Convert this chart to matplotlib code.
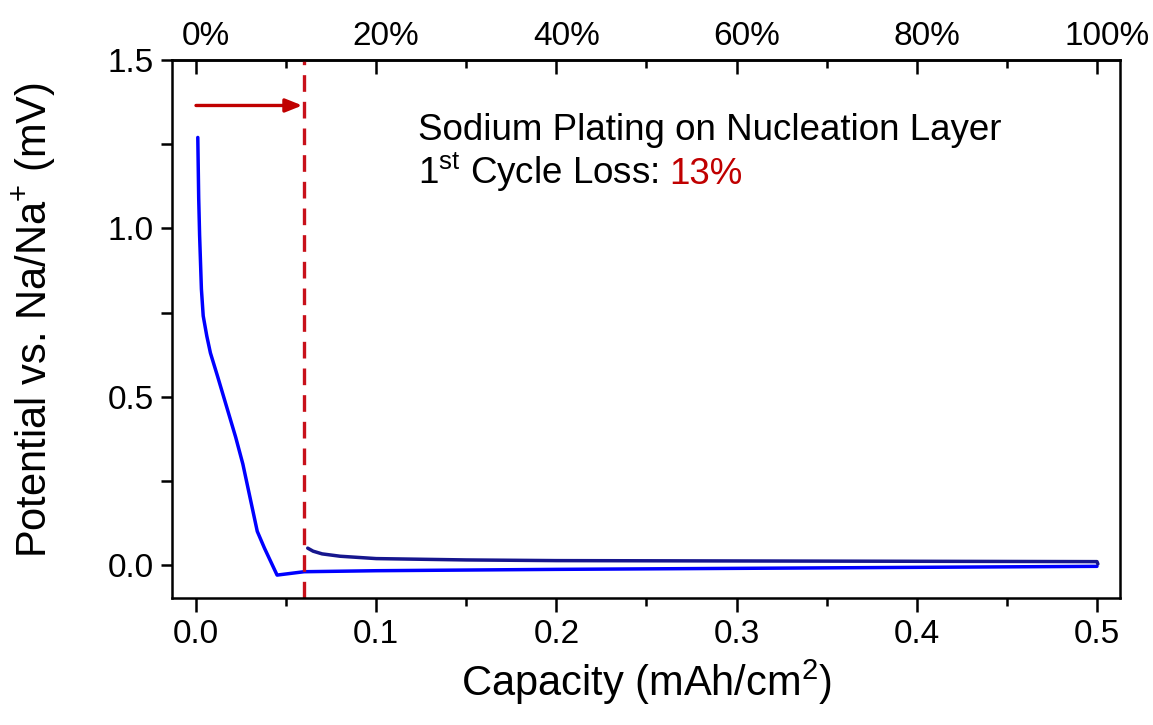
import matplotlib
matplotlib.use("Agg")
import matplotlib.pyplot as plt
import matplotlib.transforms as mtransforms
from matplotlib.ticker import MultipleLocator, FormatStrFormatter

plt.rcParams['font.family'] = ['Liberation Sans', 'DejaVu Sans']
plt.rcParams['mathtext.fontset'] = 'custom'
plt.rcParams['mathtext.rm'] = 'Liberation Sans'
plt.rcParams['mathtext.it'] = 'Liberation Sans:italic'

# discharge (plating) branch
cap_down = [0.001, 0.0015, 0.002, 0.003, 0.004, 0.006, 0.008, 0.012, 0.017, 0.022,
            0.026, 0.030, 0.034, 0.038, 0.045, 0.060, 0.100, 0.200, 0.300, 0.400, 0.500]
pot_down = [1.27, 1.09, 0.98, 0.82, 0.74, 0.68, 0.63, 0.56, 0.47, 0.38,
            0.30, 0.20, 0.10, 0.05, -0.03, -0.02, -0.017, -0.013, -0.010, -0.007, -0.004]

# plating on nucleation layer branch
cap_up = [0.062, 0.065, 0.070, 0.080, 0.100, 0.150, 0.200, 0.300, 0.400, 0.500, 0.5005]
pot_up = [0.050, 0.041, 0.033, 0.026, 0.019, 0.015, 0.013, 0.012, 0.011, 0.010, 0.003]

loss_cap = 0.06
top_ticks = [0.0, 0.1, 0.2, 0.3, 0.4, 0.5]
top_labels = ['0%', '20%', '40%', '60%', '80%', '100%']

fig = plt.figure(figsize=(11.53, 7.25), dpi=100)
ax = fig.add_axes([0.1492, 0.1752, 0.8222, 0.742])

ax.plot(cap_down, pot_down, color='#0000ff', lw=2.5, solid_capstyle='round')
ax.plot(cap_up, pot_up, color='#16168e', lw=2.5, solid_capstyle='round')

ax.axvline(loss_cap, color='#c8101a', lw=2.4, dashes=(5, 3))
ax.annotate('', xy=(loss_cap - 0.001, 1.365), xytext=(0.0, 1.365),
            arrowprops=dict(arrowstyle='-|>,head_length=1.0,head_width=0.4',
                            color='#c00000', lw=2.4, shrinkA=0, shrinkB=0))

ax.set_xlim(-0.0133, 0.5128)
ax.set_ylim(-0.098, 1.5)

ax.xaxis.set_major_locator(MultipleLocator(0.1))
ax.xaxis.set_minor_locator(MultipleLocator(0.05))
ax.yaxis.set_major_locator(MultipleLocator(0.5))
ax.yaxis.set_minor_locator(MultipleLocator(0.25))
ax.xaxis.set_major_formatter(FormatStrFormatter('%.1f'))
ax.yaxis.set_major_formatter(FormatStrFormatter('%.1f'))

ax.tick_params(axis='both', which='major', labelsize=24, width=1.8, pad=5)
ax.tick_params(axis='x', which='major', length=10, direction='out')
ax.tick_params(axis='x', which='minor', length=5.5, width=1.8, direction='out')
ax.tick_params(axis='y', which='both', length=8, width=1.8, direction='out')
for s in ax.spines.values():
    s.set_linewidth(1.8)

ax.set_xlabel('Capacity (mAh/cm$^{2}$)', fontsize=30)
ax.set_ylabel('Potential vs. Na/Na$^{+}$ (mV)', fontsize=30)
ax.xaxis.set_label_coords(0.5, -0.11)
ax.yaxis.set_label_coords(-0.12, 0.517)

top = ax.secondary_xaxis('top')
top.set_xticks(top_ticks)
top.set_xticklabels(top_labels)
top.xaxis.set_minor_locator(MultipleLocator(0.05))
top.tick_params(axis='x', which='major', length=10, width=1.8, direction='in',
                labelsize=24, pad=6)
top.tick_params(axis='x', which='minor', length=5.5, width=1.8, direction='in')
top.spines['top'].set_linewidth(1.8)
shift = mtransforms.ScaledTranslation(10 / 100, 0, fig.dpi_scale_trans)
for lab in top.get_xticklabels():
    lab.set_transform(lab.get_transform() + shift)

ax.text(0.1232, 1.262, 'Sodium Plating on Nucleation Layer', fontsize=26.5,
        va='baseline', ha='left')
t2 = ax.text(0.1232, 1.132, '1$^{\\mathrm{st}}$ Cycle Loss: ', fontsize=26.5,
             va='baseline', ha='left')
fig.canvas.draw()
bb = t2.get_window_extent()
x_end = ax.transData.inverted().transform((bb.x1, bb.y0))[0]
ax.text(x_end + 0.004, 1.132, '13%', fontsize=26.5, va='baseline', ha='left',
        color='#c00000')

fig.savefig('out.png', dpi=100)
